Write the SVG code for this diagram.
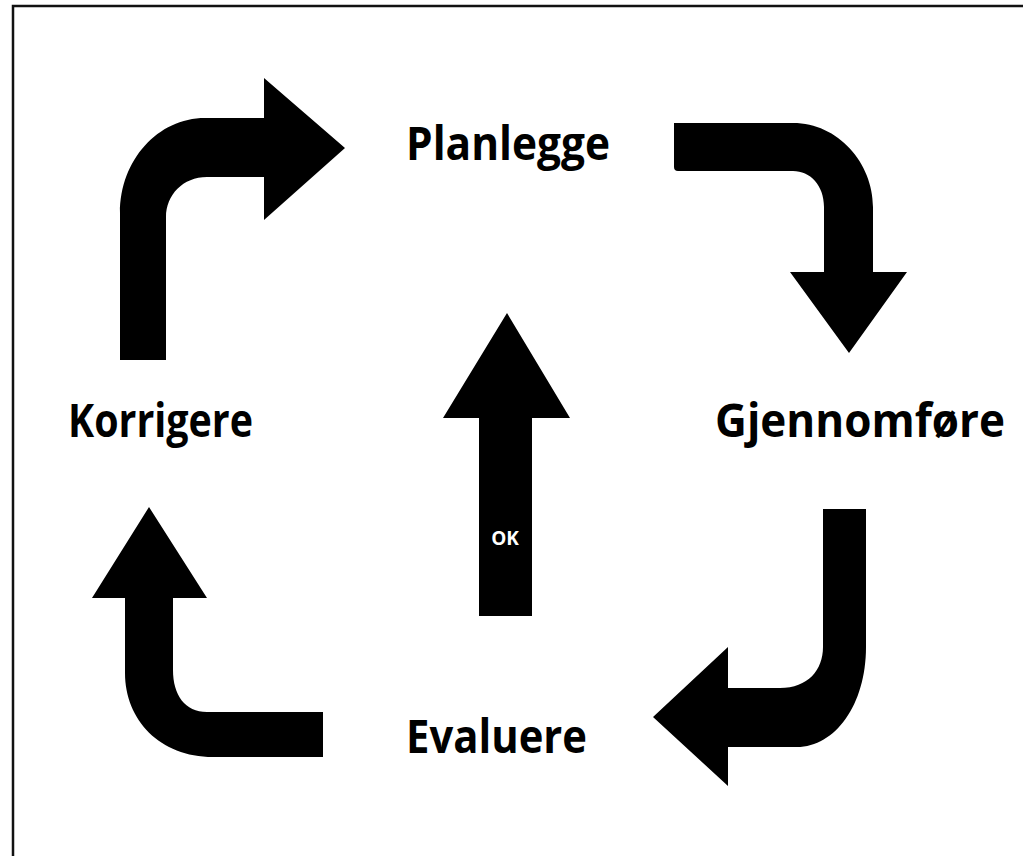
<svg xmlns="http://www.w3.org/2000/svg" width="1023" height="856" viewBox="0 0 1023 856">
<style>
.arr{fill:#000;stroke:none}
.lbl{font-family:"Open Sans","Liberation Sans",sans-serif;font-weight:700;font-size:46px;fill:#000}
.ok{font-family:"Open Sans","Liberation Sans",sans-serif;font-weight:700;font-size:19px;fill:#fff;text-anchor:middle}
</style>
<rect x="0" y="0" width="1023" height="856" fill="#fff"/>
<rect x="13" y="6" width="1030" height="870" fill="none" stroke="#111" stroke-width="2.5"/>
<g id="connectors">
<path id="arrow-korrigere-planlegge" class="arr" d="M120,360 L120,213 C120,160 158,118 205,118 L264,118 L264,78 L345,148 L264,220 L264,177 L207,177 C183,177 166,195 166,217 L166,360 Z"/>
<path id="arrow-planlegge-gjennomfore" class="arr" d="M674,123 L793,123 C838,123 873,163 873,207 L873,272 L907,272 L849,353 L790,272 L824,272 L824,207 C824,185 810,171 793,171 L678,171 Q674,171 674,167 Z"/>
<path id="arrow-gjennomfore-evaluere" class="arr" d="M823,509 L866,509 L866,647 C866,705 835,747 797,747 L728,747 L728,786 L653,717 L728,647 L728,688 L780,688 C808,688 823,670 823,647 Z"/>
<path id="arrow-evaluere-korrigere" class="arr" d="M323,712 L323,757 L213,757 C160,757 125,720 125,673 L125,598 L92,598 L149,507 L207,598 L173,598 L173,670 C173,695 185,712 207,712 Z"/>
<path id="arrow-ok" class="arr" d="M479,616 L479,418 L443,418 L507,313 L570,418 L532,418 L532,616 Z"/>
<text class="ok" x="505" y="545">OK</text>
</g>
<g id="node-planlegge"><text class="lbl" x="406" y="160" textLength="204" lengthAdjust="spacingAndGlyphs">Planlegge</text></g>
<g id="node-gjennomfore"><text class="lbl" x="715" y="437" textLength="290" lengthAdjust="spacingAndGlyphs">Gjennomføre</text></g>
<g id="node-evaluere"><text class="lbl" x="406" y="753" textLength="181" lengthAdjust="spacingAndGlyphs">Evaluere</text></g>
<g id="node-korrigere"><text class="lbl" x="68" y="437" textLength="185" lengthAdjust="spacingAndGlyphs">Korrigere</text></g>
</svg>
